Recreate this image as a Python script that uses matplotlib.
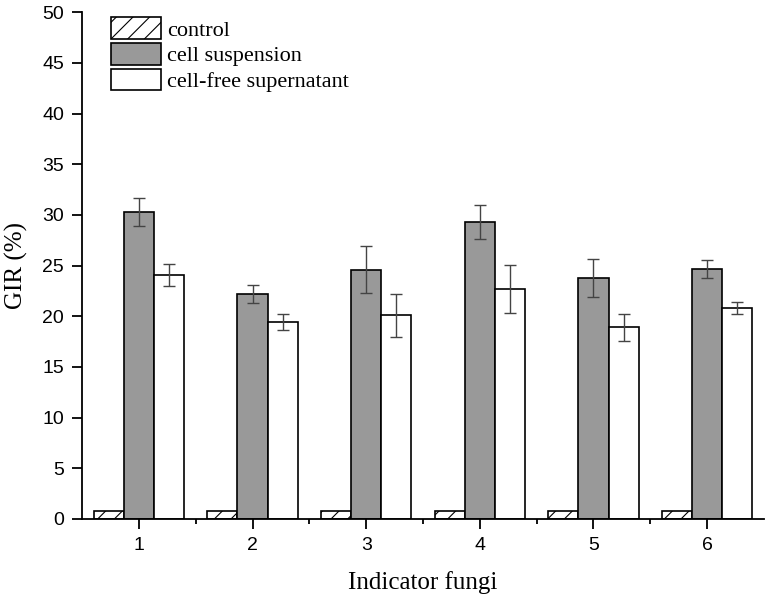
import matplotlib
matplotlib.use("Agg")
import matplotlib.pyplot as plt
import numpy as np

categories = ["1", "2", "3", "4", "5", "6"]
control = [0.8, 0.8, 0.8, 0.8, 0.8, 0.8]
cell_suspension = [30.3, 22.2, 24.6, 29.3, 23.8, 24.7]
cell_suspension_err = [1.4, 0.9, 2.3, 1.7, 1.9, 0.9]
cell_free = [24.1, 19.4, 20.1, 22.7, 18.9, 20.8]
cell_free_err = [1.1, 0.8, 2.1, 2.4, 1.3, 0.6]

plt.rcParams['hatch.linewidth'] = 0.8
fig = plt.figure(figsize=(7.67, 5.99), dpi=100)
ax = fig.add_axes([0.107, 0.1336, 0.889, 0.846])

x = np.arange(1, len(categories) + 1)
w = 0.265
err_kw = dict(ecolor="#444444", elinewidth=1.0, capsize=4, capthick=1.0)
ax.bar(x - w, control, w, color="white", edgecolor="black", linewidth=1.2,
       hatch="//", label="control")
ax.bar(x, cell_suspension, w, yerr=cell_suspension_err, color="#999999",
       edgecolor="black", linewidth=1.2, error_kw=err_kw, label="cell suspension")
ax.bar(x + w, cell_free, w, yerr=cell_free_err, color="white",
       edgecolor="black", linewidth=1.2, error_kw=err_kw, label="cell-free supernatant")

ax.set_xlim(0.5, 6.5)
ax.set_ylim(0, 50)
ax.set_xticks(x)
ax.set_xticklabels(categories)
ax.set_xticks(np.arange(1.5, 6.5, 1.0), minor=True)
ax.set_yticks(np.arange(0, 51, 5))
for s in ["top", "right"]:
    ax.spines[s].set_visible(False)
for s in ["left", "bottom"]:
    ax.spines[s].set_linewidth(1.3)
ax.tick_params(axis="both", which="major", direction="out", length=7, width=1.3,
               labelsize=14, pad=6)
ax.tick_params(axis="x", which="minor", direction="out", length=3.6, width=1.3)
for lab in ax.get_xticklabels() + ax.get_yticklabels():
    lab.set_fontfamily("Liberation Sans")

ax.set_xlabel("Indicator fungi", fontfamily="Liberation Serif", fontsize=18)
ax.set_ylabel("GIR (%)", fontfamily="Liberation Serif", fontsize=18)
ax.xaxis.set_label_coords(0.5, -0.103)
ax.yaxis.set_label_coords(-0.080, 0.5)

leg = ax.legend(loc="upper left", bbox_to_anchor=(0.0425, 0.99), frameon=False,
                prop={"family": "Liberation Serif", "size": 16},
                handlelength=2.25, handleheight=1.1, labelspacing=0.12,
                handletextpad=0.27, borderaxespad=0.0, borderpad=0.0)

fig.savefig("out.png", dpi=100)
